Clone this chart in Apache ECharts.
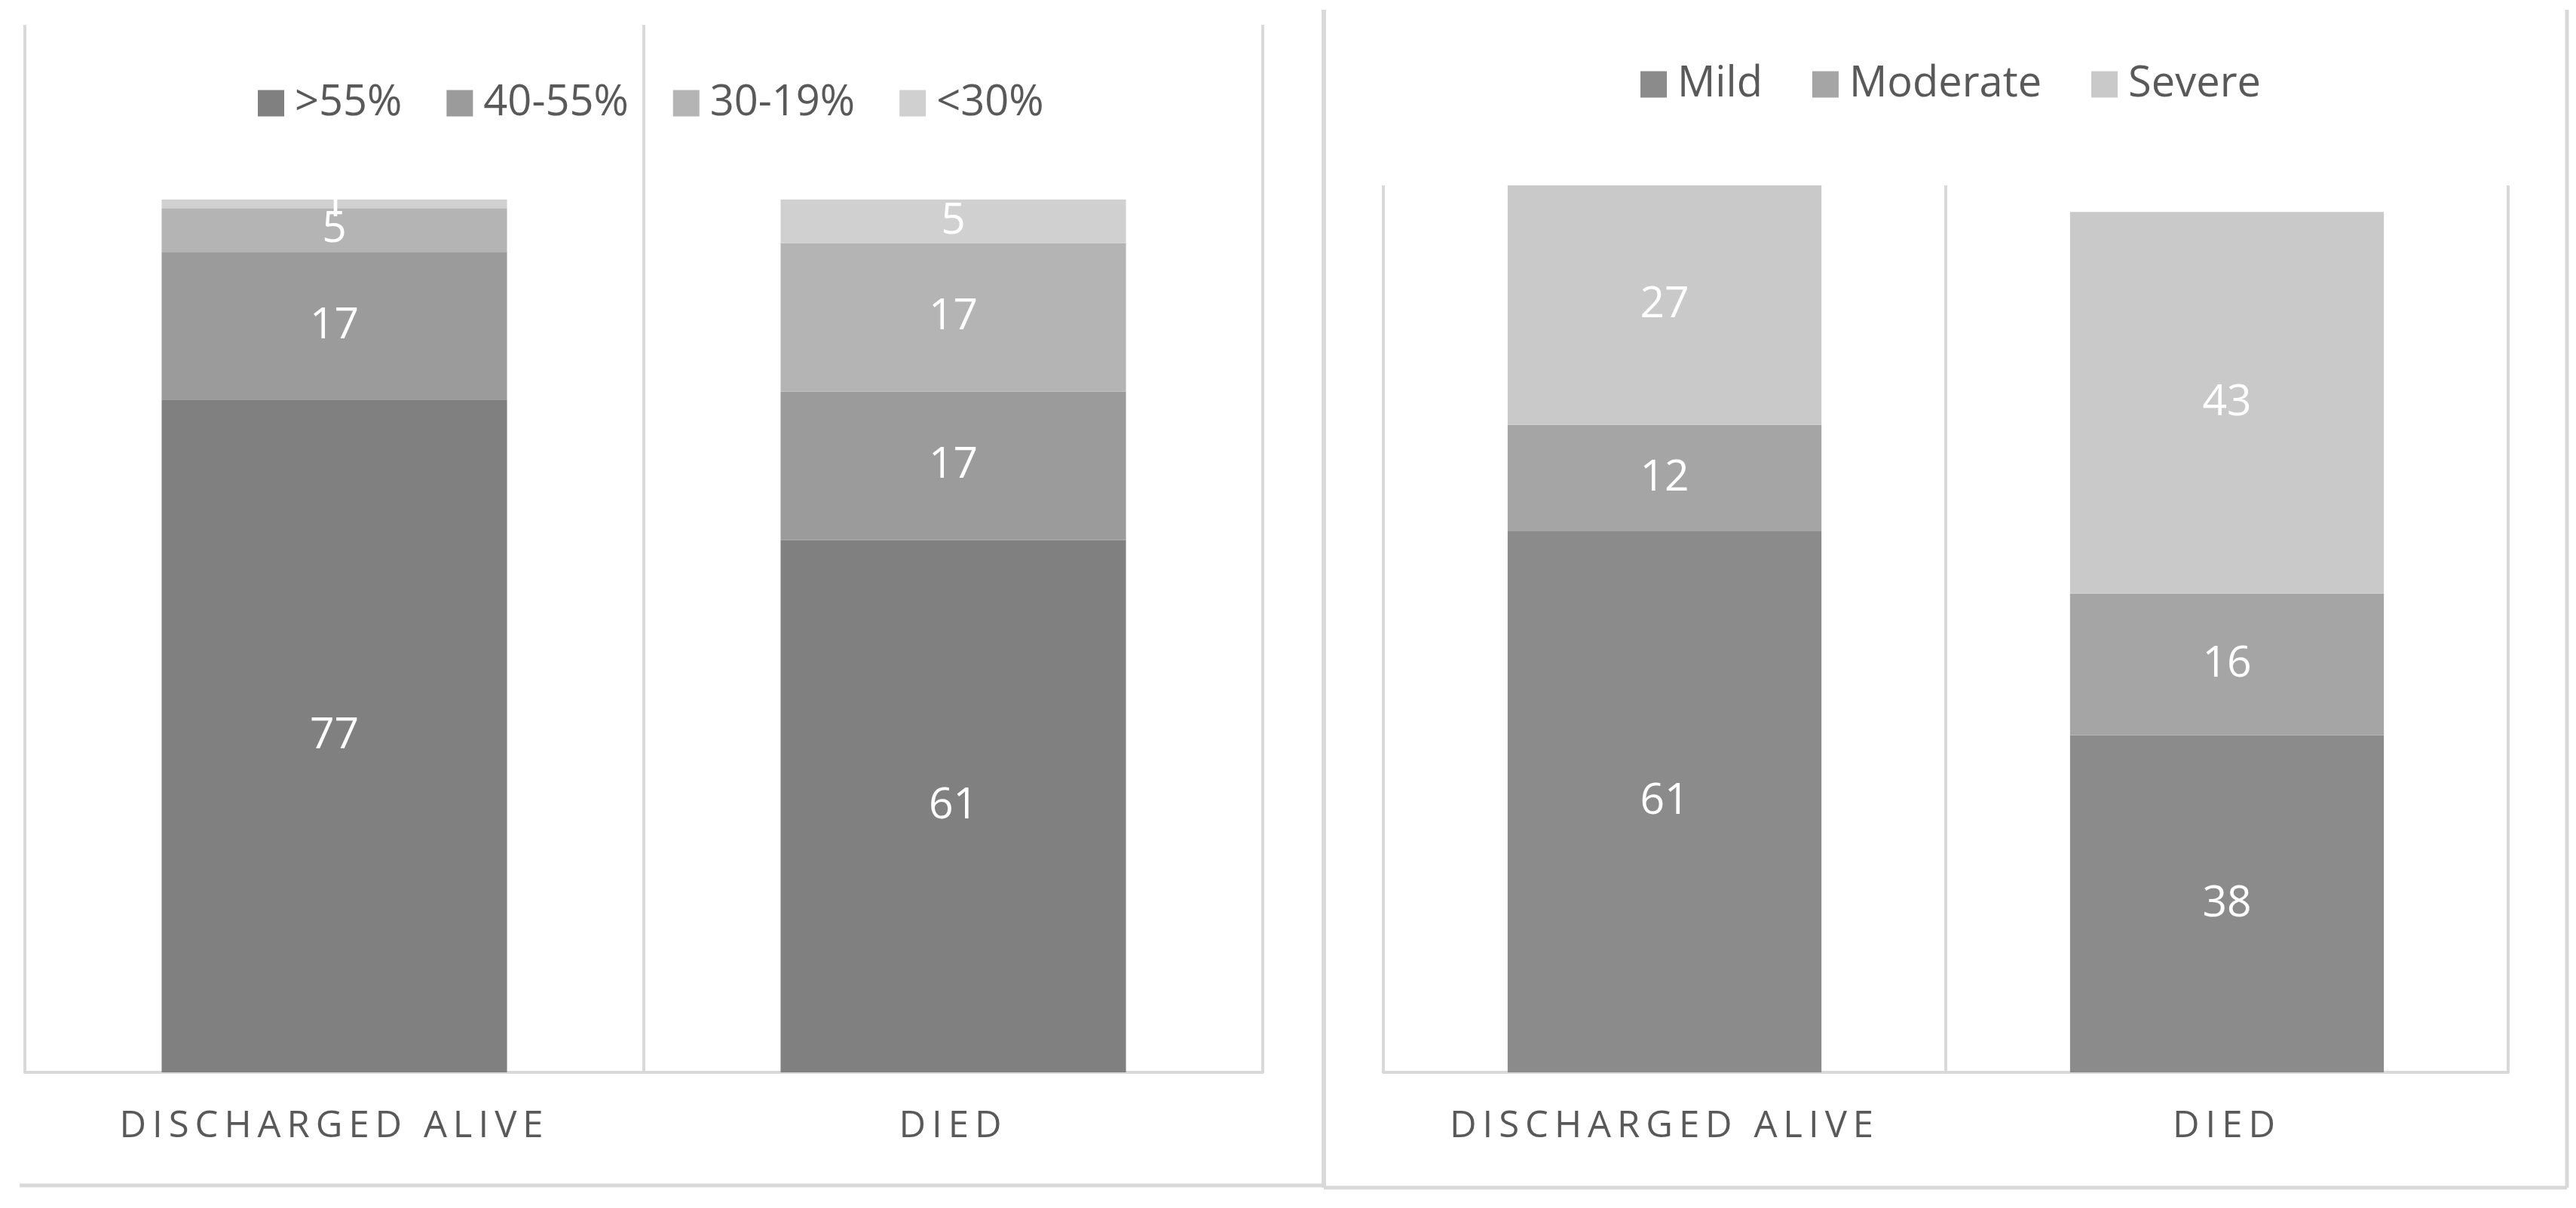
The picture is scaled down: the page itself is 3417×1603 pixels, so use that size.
<!DOCTYPE html>
<html>
<head>
<meta charset="utf-8">
<script src="https://cdn.jsdelivr.net/npm/echarts@6/dist/echarts.min.js"></script>
<style>
html,body{margin:0;padding:0;background:#fff;}
#chart{width:3417px;height:1603px;}
</style>
</head>
<body>
<div id="chart"></div>
<script>
// ---- data ----
const categories = ['DISCHARGED ALIVE', 'DIED'];
const efNames = ['>55%', '40-55%', '30-19%', '<30%'];
const efGt55 = [77, 61];
const ef40to55 = [17, 17];
const ef30to19 = [5, 17];
const efLt30 = [1, 5];
const sevNames = ['Mild', 'Moderate', 'Severe'];
const sevMild = [61, 38];
const sevModerate = [12, 16];
const sevSevere = [27, 43];

// letter spacing for category labels (canvas only)
(function(){
  const proto = CanvasRenderingContext2D.prototype;
  const orig = proto.fillText;
  proto.fillText = function(t, x, y, w){
    if ('letterSpacing' in this) {
      this.letterSpacing = (this.font && this.font.indexOf('49px') >= 0) ? '8px' : '0px';
    }
    return w === undefined ? orig.call(this, t, x, y) : orig.call(this, t, x, y, w);
  };
})();

const FONT = 'Open Sans';
const GRIDC = '#d9d9d9';
const efColors = ['#808080', '#9b9b9b', '#b4b4b4', '#d0d0d0'];
const sevColors = ['#8a8b8a', '#a5a5a5', '#c9c9c9'];

function barSeries(name, data, color, axisIdx, stack){
  return {
    name: name, type: 'bar', stack: stack, data: data,
    xAxisIndex: axisIdx, yAxisIndex: axisIdx,
    barWidth: '55.8%',
    itemStyle: { color: color },
    label: { show: true, position: 'inside', color: '#ffffff', fontFamily: FONT, fontSize: 57 },
    emphasis: { disabled: true }
  };
}

function xAx(gridIndex){
  return {
    type: 'category', gridIndex: gridIndex, data: categories,
    axisLine: { show: true, lineStyle: { color: GRIDC, width: 4 } },
    axisTick: { show: false },
    splitLine: { show: true, lineStyle: { color: GRIDC, width: 4 } },
    axisLabel: { color: '#595959', fontFamily: FONT, fontSize: 49, margin: 48, interval: 0 }
  };
}
function yAx(gridIndex, max){
  return {
    type: 'value', gridIndex: gridIndex, min: 0, max: max,
    show: false, splitLine: { show: false }
  };
}

const legendText = { color: '#595959', fontFamily: FONT, fontSize: 56, padding: [0, 0, 0, 9] };

const option = {
  backgroundColor: '#ffffff',
  animation: false,
  legend: [
    { data: efNames, left: 337, top: 104, itemWidth: 35, itemHeight: 35, itemGap: 59,
      icon: 'rect', textStyle: legendText, selectedMode: false },
    { data: sevNames, left: 2171, top: 79, itemWidth: 35, itemHeight: 35, itemGap: 66,
      icon: 'rect', textStyle: legendText, selectedMode: false }
  ],
  grid: [
    { left: 33, width: 1642, top: 33, bottom: 180 },
    { left: 1835, width: 1492, top: 246, bottom: 180 }
  ],
  xAxis: [xAx(0), xAx(1)],
  yAxis: [yAx(0, 120), yAx(1, 100)],
  series: [
    barSeries(efNames[0], efGt55, efColors[0], 0, 'ef'),
    barSeries(efNames[1], ef40to55, efColors[1], 0, 'ef'),
    barSeries(efNames[2], ef30to19, efColors[2], 0, 'ef'),
    barSeries(efNames[3], efLt30, efColors[3], 0, 'ef'),
    barSeries(sevNames[0], sevMild, sevColors[0], 1, 'sev'),
    barSeries(sevNames[1], sevModerate, sevColors[1], 1, 'sev'),
    barSeries(sevNames[2], sevSevere, sevColors[2], 1, 'sev')
  ],
  graphic: [
    { type: 'line', shape: { x1: 26, y1: 1573, x2: 1755, y2: 1573 }, style: { stroke: GRIDC, lineWidth: 5 }, silent: true },
    { type: 'line', shape: { x1: 1756, y1: 13, x2: 1756, y2: 1576 }, style: { stroke: GRIDC, lineWidth: 6 }, silent: true },
    { type: 'line', shape: { x1: 3405, y1: 13, x2: 3405, y2: 1576 }, style: { stroke: GRIDC, lineWidth: 5 }, silent: true },
    { type: 'line', shape: { x1: 1756, y1: 1576, x2: 3405, y2: 1576 }, style: { stroke: GRIDC, lineWidth: 5 }, silent: true }
  ]
};

const chart = echarts.init(document.getElementById('chart'), null, { renderer: 'canvas' });
chart.setOption(option);
</script>
</body>
</html>
